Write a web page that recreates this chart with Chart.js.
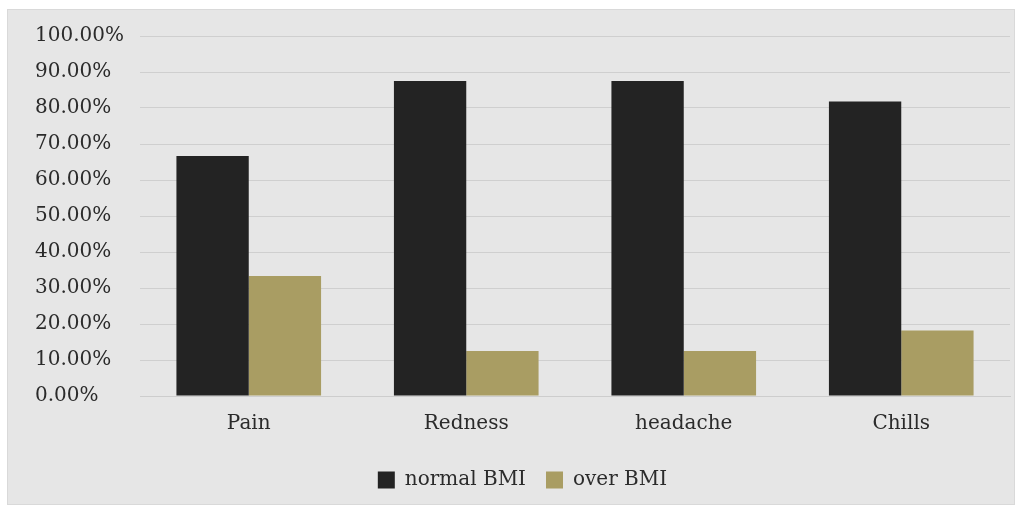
<!DOCTYPE html>
<html>
<head>
<meta charset="utf-8">
<script src="https://cdn.jsdelivr.net/npm/chart.js@4"></script>
<style>
  html, body { margin: 0; padding: 0; background: #ffffff; }
  #wrap { position: relative; width: 1021px; height: 510px; }
</style>
</head>
<body>
<div id="wrap"><canvas id="chart" width="1021" height="510"></canvas></div>
<script>
// data
const categories = ['Pain', 'Redness', 'headache', 'Chills'];
const normalBMI = [66.67, 87.5, 87.5, 81.82];
const overBMI = [33.33, 12.5, 12.5, 18.18];
const seriesNames = ['normal BMI', 'over BMI'];

const FONT = "'DejaVu Serif', serif";
const TEXT = '#2b2b2b';

// light grey panel behind the chart, like the source image
const panelBg = {
    id: 'panelBg',
    beforeDraw(chart) {
        const c = chart.ctx;
        c.save();
        c.fillStyle = '#e6e6e6';
        c.fillRect(7, 9, 1008, 496);
        c.strokeStyle = '#d9d9d9';
        c.lineWidth = 1;
        c.strokeRect(7.5, 9.5, 1007, 495);
        c.restore();
    }
};

new Chart(document.getElementById('chart'), {
    type: 'bar',
    data: {
        labels: categories,
        datasets: [
            { label: seriesNames[0], data: normalBMI, backgroundColor: '#232323' },
            { label: seriesNames[1], data: overBMI, backgroundColor: '#a99d63' }
        ]
    },
    options: {
        responsive: false,
        animation: false,
        layout: { padding: { top: 36, right: 11, bottom: 10, left: 35 } },
        datasets: { bar: { categoryPercentage: 0.665, barPercentage: 1.0 } },
        plugins: {
            legend: {
                position: 'bottom',
                labels: {
                    color: TEXT,
                    font: { family: FONT, size: 20 },
                    boxWidth: 17,
                    boxHeight: 17,
                    padding: 20
                }
            },
            tooltip: { enabled: false }
        },
        scales: {
            x: {
                grid: { display: false },
                border: { color: '#cdcdcd', width: 1 },
                ticks: { color: TEXT, font: { family: FONT, size: 20 }, padding: 8 },
                afterFit: (scale) => { scale.height = 54; }
            },
            y: {
                min: 0,
                max: 100,
                ticks: {
                    stepSize: 10,
                    color: TEXT,
                    font: { family: FONT, size: 20 },
                    padding: 14,
                    crossAlign: 'far',
                    callback: (v) => v.toFixed(2) + '%'
                },
                grid: { color: '#cfcfcf', lineWidth: 1, drawTicks: false },
                border: { display: false },
                afterFit: (scale) => { scale.width = 105; }
            }
        }
    },
    plugins: [panelBg]
});
</script>
</body>
</html>
